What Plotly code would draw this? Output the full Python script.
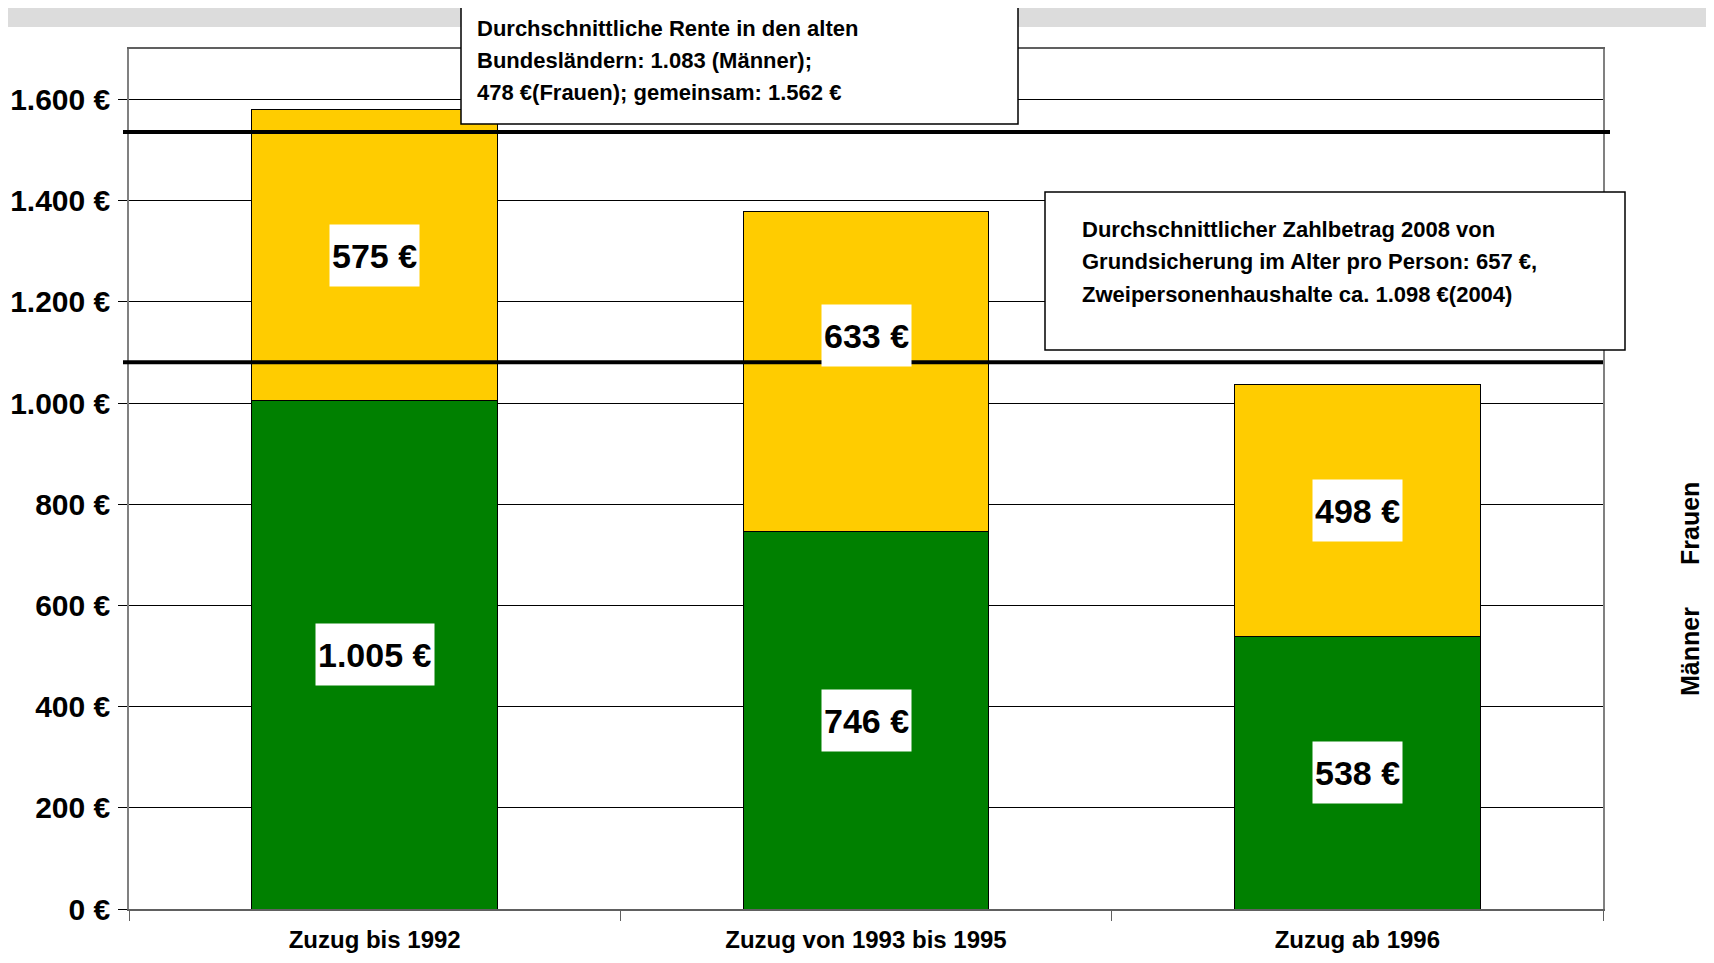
import plotly.graph_objects as go

categories = ["Zuzug bis 1992", "Zuzug von 1993 bis 1995", "Zuzug ab 1996"]
maenner = [1005, 746, 538]
frauen = [575, 633, 498]
maenner_labels = ["1.005 €", "746 €", "538 €"]
frauen_labels = ["575 €", "633 €", "498 €"]
ref_lines = [1536, 1081]
y_ticks = [0, 200, 400, 600, 800, 1000, 1200, 1400, 1600]
y_ticktext = ["0 €", "200 €", "400 €", "600 €", "800 €", "1.000 €", "1.200 €", "1.400 €", "1.600 €"]
box1_lines = ["Durchschnittliche Rente in den alten",
              "Bundesländern: 1.083 (Männer);",
              "478 €(Frauen); gemeinsam: 1.562 €"]
box2_lines = ["Durchschnittlicher Zahlbetrag 2008 von",
              "Grundsicherung im Alter pro Person: 657 €,",
              "Zweipersonenhaushalte ca. 1.098 €(2004)"]

# The page body has an 8px margin, so the figure is 16px smaller than the window
OFF = 8
W, H = 1714 - 2 * OFF, 963 - 2 * OFF
# plot area in page pixels
L, R, T, B = 129, 1603, 49, 909
FONT = "Liberation Sans, Arial, sans-serif"


def px(x):
    return (x - L) / (R - L)


def py(y):
    return (B - y) / (B - T)


fig = go.Figure()
fig.add_trace(go.Bar(x=categories, y=maenner, name="Männer",
                     marker=dict(color="#008000", line=dict(color="black", width=1))))
fig.add_trace(go.Bar(x=categories, y=frauen, name="Frauen",
                     marker=dict(color="#FFCC00", line=dict(color="black", width=1))))

annotations = []
label_shift = [0, 72, 0]
for i, c in enumerate(categories):
    annotations.append(dict(x=c, y=maenner[i] / 2, text=maenner_labels[i], showarrow=False,
                            xanchor="center", yanchor="middle",
                            font=dict(family=FONT, size=34, color="black", weight="bold"),
                            bgcolor="white", borderpad=2, height=57))
    annotations.append(dict(x=c, y=maenner[i] + frauen[i] / 2 + label_shift[i], text=frauen_labels[i],
                            showarrow=False, xanchor="center", yanchor="middle",
                            font=dict(family=FONT, size=34, color="black", weight="bold"),
                            bgcolor="white", borderpad=2, height=57))

shapes = []
# grey band at top
shapes.append(dict(type="rect", xref="paper", yref="paper", x0=px(0), x1=px(1714), y0=py(27), y1=py(0),
                   fillcolor="#dcdcdc", line=dict(width=0), layer="below"))
# reference lines
ends = [1610, 1603]
for v, e in zip(ref_lines, ends):
    shapes.append(dict(type="line", xref="paper", yref="y", x0=px(123), x1=px(e), y0=v, y1=v,
                       line=dict(color="black", width=4), layer="above"))
# text boxes
shapes.append(dict(type="rect", xref="paper", yref="paper", x0=px(461), x1=px(1018), y0=py(124), y1=py(7),
                   fillcolor="white", line=dict(color="black", width=1.5), layer="above"))
shapes.append(dict(type="rect", xref="paper", yref="paper", x0=px(1045), x1=px(1625), y0=py(350), y1=py(192),
                   fillcolor="white", line=dict(color="black", width=1.5), layer="above"))

for i, t in enumerate(box1_lines):
    annotations.append(dict(xref="paper", yref="paper", x=px(475), y=py(28 + 32 * i), text=t,
                            xanchor="left", yanchor="middle", showarrow=False,
                            font=dict(family=FONT, size=22, color="black", weight="bold")))
for i, t in enumerate(box2_lines):
    annotations.append(dict(xref="paper", yref="paper", x=px(1080), y=py(230 + 32 * i), text=t,
                            xanchor="left", yanchor="middle", showarrow=False,
                            font=dict(family=FONT, size=22, color="black", weight="bold")))

# legend texts (vertical)
annotations.append(dict(xref="paper", yref="paper", x=px(1690), y=py(523), text="Frauen", textangle=-90,
                        xanchor="center", yanchor="middle", showarrow=False,
                        font=dict(family=FONT, size=25, color="black", weight="bold")))
annotations.append(dict(xref="paper", yref="paper", x=px(1690), y=py(651), text="Männer", textangle=-90,
                        xanchor="center", yanchor="middle", showarrow=False,
                        font=dict(family=FONT, size=25, color="black", weight="bold")))

fig.update_layout(
    width=W, height=H,
    margin=dict(l=L - OFF, r=W - (R - OFF), t=T - OFF, b=H - (B - OFF), pad=0, autoexpand=False),
    barmode="stack", bargap=0.5,
    showlegend=False,
    plot_bgcolor="white", paper_bgcolor="white",
    font=dict(family=FONT, color="black"),
    shapes=shapes, annotations=annotations,
)
fig.update_yaxes(range=[0, 1700], tickvals=y_ticks, ticktext=y_ticktext, automargin=False,
                 showgrid=True, gridcolor="black", gridwidth=1, zeroline=False,
                 showline=True, linecolor="#808080", linewidth=1.5, mirror=True,
                 ticks="outside", ticklen=9, tickcolor="black", ticklabelstandoff=2,
                 tickfont=dict(family=FONT, size=30, color="black", weight="bold"))
fig.update_xaxes(showgrid=False, showline=True, linecolor="#606060", linewidth=2, mirror=True,
                 automargin=False,
                 ticks="outside", tickson="boundaries", ticklen=10, tickcolor="#606060",
                 ticklabelstandoff=8,
                 tickfont=dict(family=FONT, size=24, color="black", weight="bold"))

fig.write_html("out.html")
